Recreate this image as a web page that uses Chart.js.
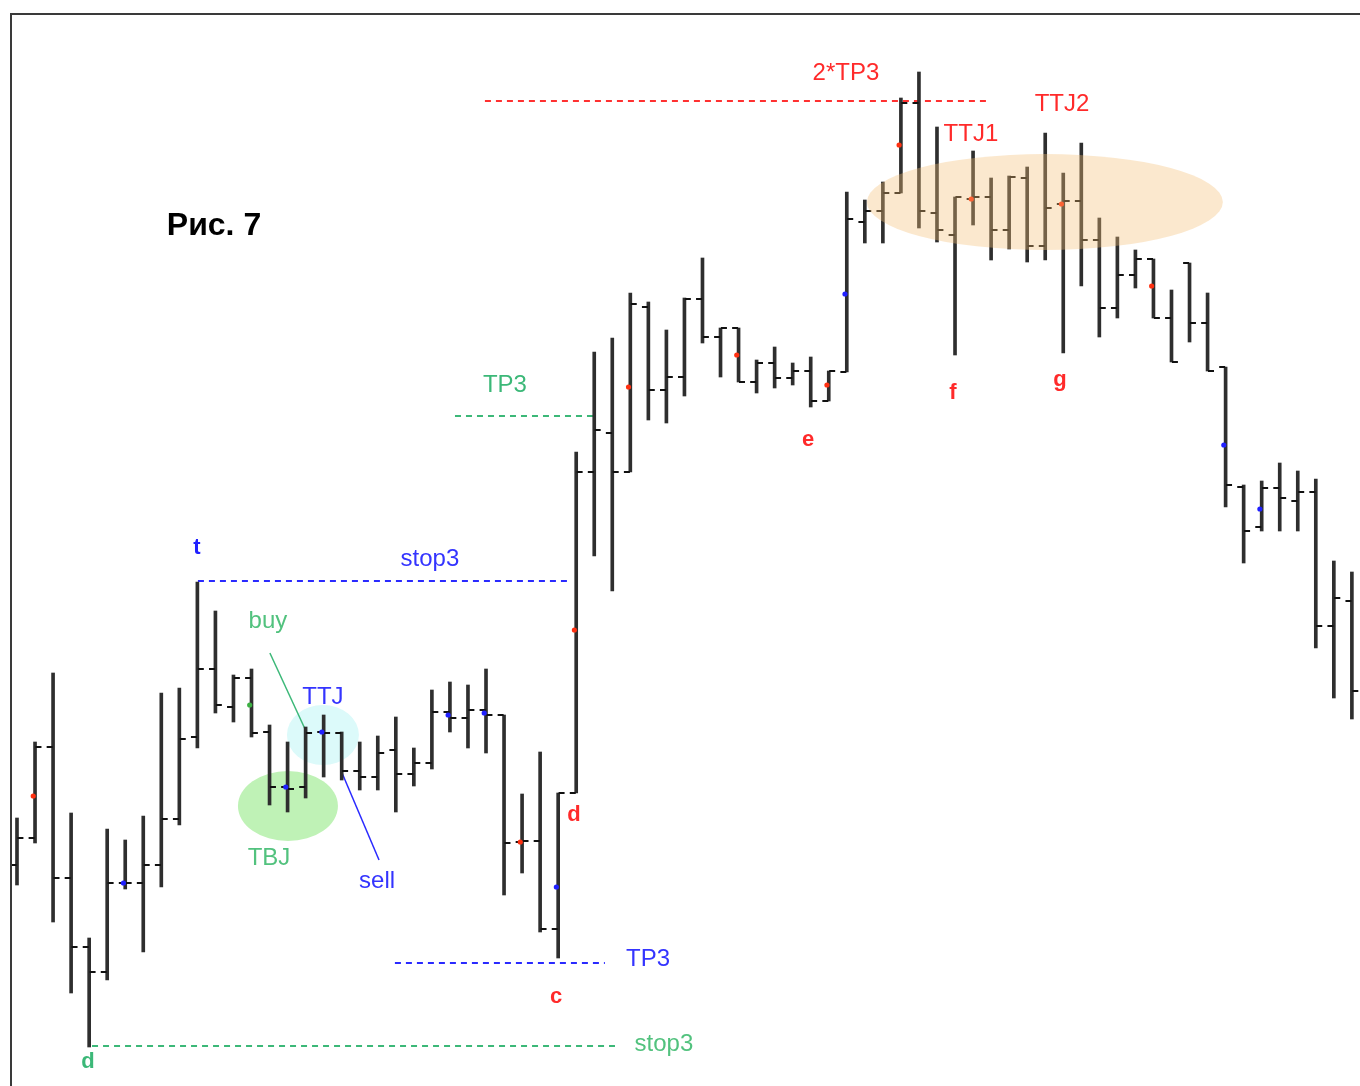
<!DOCTYPE html>
<html lang="ru">
<head>
<meta charset="UTF-8">
<title>Рис. 7</title>
<script src="https://cdn.jsdelivr.net/npm/chart.js"></script>
<style>
  html, body { margin: 0; padding: 0; background: #fff; }
  canvas { display: block; }
</style>
</head>
<body>
<canvas id="bars" width="1360" height="1086"></canvas>
<script>
// OHLC bars, price in points (bar index 0..74)
const opens  = [221,248,339,208,139,114,203,203,221,267, 349,417,379,408,354,299,299,354,353,315,
                309,336,312,323,374,368,376,371,244,245, 157,293,614,653,614,779,696,709,787,749,
                758,704,723,708,715,685,714,864,875,893, 983,873,851,887,889,856,908,840,882,885,
                846,778,811,827,768,823,763,719,599,559, 598,585,594,460,485];
const highs  = [268,344,413,273,148,257,246,270,393,398, 504,475,411,417,361,344,359,371,354,344,
                350,369,338,396,404,401,417,371,292,334, 293,634,734,748,793,784,756,788,828,758,
                758,726,739,723,729,715,894,886,904,988, 1014,959,889,935,908,910,919,953,913,943,
                868,849,836,827,796,823,793,719,601,605, 623,615,607,525,514];
const lows   = [201,243,164,93,39,106,197,134,199,261, 338,373,364,349,281,274,288,309,306,296,
                296,274,300,317,354,338,333,191,213,154, 128,293,530,495,614,666,663,690,743,709,
                704,693,698,701,679,685,714,843,843,893, 858,844,731,861,826,837,824,826,733,800,
                749,768,798,768,724,744,715,579,523,555, 555,555,438,388,367];
const closes = [248,339,208,139,114,203,203,221,267,347, 417,381,408,353,299,297,353,353,315,309,
                333,312,323,374,368,376,371,243,245,157, 293,614,656,614,782,696,709,787,749,758,
                704,723,708,715,685,715,867,875,893,983, 875,856,889,889,856,909,840,878,885,846,
                778,811,827,768,724,763,715,601,555,598, 588,594,460,488,395];

// small coloured marks on bars
const redDotBars    = [1,28,31,34,40,45,49,53,58,63];
const redDotValues  = [290,244,456,699,731,701,941,887,882,800];
const blueDotBars   = [6,15,17,24,26,30,46,67,69];
const blueDotValues = [203,299,354,371,373,199,792,641,577];
const greenDotBars   = [13];
const greenDotValues = [381];

// dashed levels: [fromBar, toBar, level]
const levelRed2TP3   = [25.94, 53.94, 985];
const levelGreenTP3  = [24.28, 32.15, 670];
const levelBlueStop3 = [10.03, 30.76, 505];
const levelBlueTP3   = [20.95, 32.59, 123];
const levelGreenStop3 = [4.16, 33.15, 40];

// pointer lines "buy" / "sell"
const buyPointer  = [[14.02, 433], [16.07, 353]];
const sellPointer = [[18.02, 313], [20.07, 226]];

// text labels: text, bar, price, colour, font
const BOLD = 'bold 22px "Liberation Sans", Arial, sans-serif';
const labels = [
  ['Рис. 7', 10.92, 860, '#000', 'bold 32px "Liberation Sans", Arial, sans-serif'],
  ['2*TP3', 45.95, 1013, '#ff2a2a'],
  ['TTJ1', 52.88, 952, '#ff2a2a'],
  ['TTJ2', 57.93, 982, '#ff2a2a'],
  ['TP3', 27.05, 701, '#3cb878'],
  ['stop3', 22.89, 527, '#3434ff'],
  ['t', 9.98, 538, '#2020ff', BOLD],
  ['buy', 13.91, 465, '#52c27e'],
  ['TTJ', 16.96, 389, '#3434ff'],
  ['TBJ', 13.97, 228, '#52c27e'],
  ['sell', 19.96, 205, '#3434ff'],
  ['d', 30.88, 271, '#ff2a2a', BOLD],
  ['TP3', 34.98, 127, '#3434ff'],
  ['c', 29.88, 89, '#ff2a2a', BOLD],
  ['stop3', 35.86, 42, '#52c27e'],
  ['d', 3.94, 24, '#3cb878', BOLD],
  ['e', 43.85, 646, '#ff2a2a', BOLD],
  ['f', 51.88, 693, '#ff2a2a', BOLD],
  ['g', 57.82, 706, '#ff2a2a', BOLD]
];

// highlighted zones: bar, price, radiusX px, radiusY px, colour
const zoneTop   = [56.98, 884, 178, 48, 'rgba(245,190,120,0.36)'];
const zoneTBJ   = [15.02, 280, 50, 35, '#bff2b6'];
const zoneTTJ   = [16.96, 351, 36, 30, '#dcfafa'];

const idx = opens.map((_, i) => i);
const TICK = 0.19;  // open/close tick offset, in bars

function level(arr) {
  return [{ x: arr[0], y: arr[2] }, { x: arr[1], y: arr[2] }];
}
function dashed(arr, color) {
  return {
    type: 'line', data: level(arr), borderColor: color, borderWidth: 2,
    borderDash: [6, 5], pointRadius: 0, order: 5
  };
}

function ellipse(ctx, chart, z) {
  const x = chart.scales.x.getPixelForValue(z[0]);
  const y = chart.scales.y.getPixelForValue(z[1]);
  ctx.save();
  ctx.fillStyle = z[4];
  ctx.beginPath();
  ctx.ellipse(x, y, z[2], z[3], 0, 0, Math.PI * 2);
  ctx.fill();
  ctx.restore();
}

const notes = {
  id: 'notes',
  beforeDatasetsDraw(chart) {
    ellipse(chart.ctx, chart, zoneTBJ);
    ellipse(chart.ctx, chart, zoneTTJ);
  },
  afterDatasetsDraw(chart) {
    const ctx = chart.ctx;
    ellipse(ctx, chart, zoneTop);
    ctx.save();
    ctx.textAlign = 'center';
    ctx.textBaseline = 'middle';
    labels.forEach(l => {
      ctx.font = l[4] || '24px "Liberation Sans", Arial, sans-serif';
      ctx.fillStyle = l[3];
      ctx.fillText(l[0], chart.scales.x.getPixelForValue(l[1]), chart.scales.y.getPixelForValue(l[2]));
    });
    // picture frame
    ctx.strokeStyle = '#3a3a3a';
    ctx.lineWidth = 2;
    ctx.strokeRect(11, 14, 1400, 1200);
    ctx.restore();
  }
};

new Chart(document.getElementById('bars'), {
  type: 'bar',
  data: {
    datasets: [
      {
        type: 'scatter', data: redDotBars.map((b, i) => ({ x: b - 0.1, y: redDotValues[i] })),
        pointRadius: 2.6, pointBackgroundColor: '#ff3010', pointBorderWidth: 0, order: 0
      },
      {
        type: 'scatter', data: blueDotBars.map((b, i) => ({ x: b - 0.1, y: blueDotValues[i] })),
        pointRadius: 2.6, pointBackgroundColor: '#2020ff', pointBorderWidth: 0, order: 0
      },
      {
        type: 'scatter', data: greenDotBars.map((b, i) => ({ x: b - 0.1, y: greenDotValues[i] })),
        pointRadius: 2.6, pointBackgroundColor: '#3cb043', pointBorderWidth: 0, order: 0
      },
      {
        type: 'scatter', data: idx.map(i => ({ x: i - TICK, y: opens[i] })),
        pointStyle: 'line', pointRadius: 3, pointBorderWidth: 2, pointBorderColor: '#111', order: 1
      },
      {
        type: 'scatter', data: idx.map(i => ({ x: i + TICK, y: closes[i] })),
        pointStyle: 'line', pointRadius: 3, pointBorderWidth: 2, pointBorderColor: '#111', order: 1
      },
      {
        type: 'bar', data: idx.map(i => ({ x: i, y: [lows[i], highs[i]] })),
        backgroundColor: '#2e2e2e', barThickness: 3, borderWidth: 0, order: 2
      },
      dashed(levelRed2TP3, '#ff3030'),
      dashed(levelGreenTP3, '#3cb878'),
      dashed(levelBlueStop3, '#2a2aff'),
      dashed(levelBlueTP3, '#2a2aff'),
      dashed(levelGreenStop3, '#3cb878'),
      {
        type: 'line', data: buyPointer.map(p => ({ x: p[0], y: p[1] })),
        borderColor: '#3cb878', borderWidth: 1.5, pointRadius: 0, order: 4
      },
      {
        type: 'line', data: sellPointer.map(p => ({ x: p[0], y: p[1] })),
        borderColor: '#2a2aff', borderWidth: 1.5, pointRadius: 0, order: 4
      }
    ]
  },
  options: {
    responsive: false,
    devicePixelRatio: 1,
    animation: false,
    layout: { padding: 0, autoPadding: false },
    plugins: { legend: { display: false }, tooltip: { enabled: false } },
    scales: {
      x: { type: 'linear', min: -0.942, max: 74.45, display: false, offset: false },
      y: { type: 'linear', min: 0, max: 1086, display: false }
    }
  },
  plugins: [notes]
});
</script>
</body>
</html>
